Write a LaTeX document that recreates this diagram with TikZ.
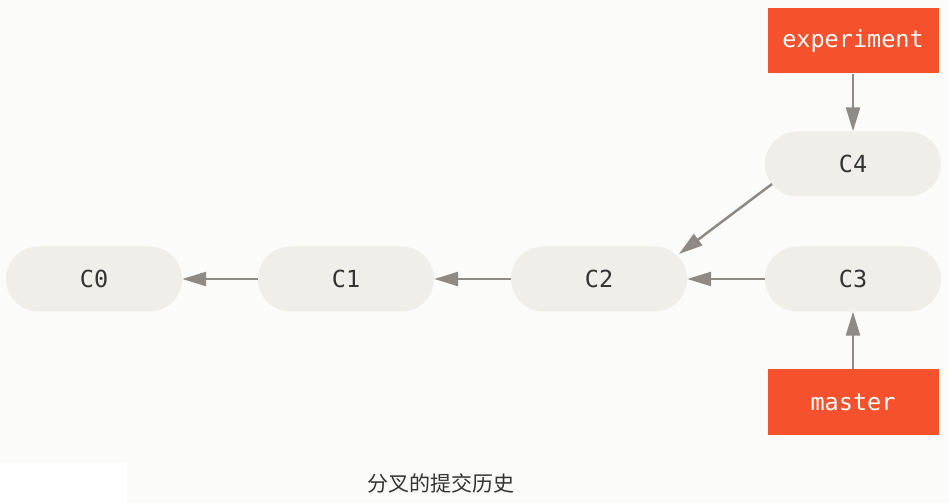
\documentclass[tikz,border=0pt]{standalone}
\usepackage{fontspec}
\setmonofont{DejaVu Sans Mono}
\newfontfamily\cjk{Noto Sans CJK SC}
\usetikzlibrary{shapes.misc,arrows.meta}
\definecolor{bgc}{HTML}{FBFBF9}
\definecolor{commitfill}{HTML}{EFEEE8}
\definecolor{branchred}{HTML}{F4512C}
\definecolor{arrowgray}{HTML}{8F8A83}
\definecolor{txtgray}{HTML}{333333}
\tikzset{
  commit/.style={rounded rectangle, fill=commitfill, minimum width=176pt, minimum height=65pt, inner sep=0pt,
    font=\ttfamily\fontsize{23.5}{23.5}\selectfont, text=txtgray},
  branch/.style={rectangle, fill=branchred, minimum width=171pt, minimum height=65pt, inner sep=0pt,
    font=\ttfamily\fontsize{23.5}{23.5}\selectfont, text=white},
  arr/.style={draw=arrowgray, line width=2.5pt, -{Triangle[length=24pt,width=14pt]}, arrowgray}
}
\begin{document}
\begin{tikzpicture}[x=1pt,y=1pt]
\fill[bgc] (0,0) rectangle (949,503);
\fill[white] (0,0) rectangle (127,40);
\useasboundingbox (0,0) rectangle (949,503);
\node[commit] (C0) at (94,224) {C0};
\node[commit] (C1) at (346,224) {C1};
\node[commit] (C2) at (599,224) {C2};
\node[commit] (C3) at (853,224) {C3};
\node[commit] (C4) at (853,339) {C4};
\node[branch] (exp) at (853,462) {experiment};
\node[branch] (mst) at (853,101) {master};
\node[font=\cjk\fontsize{21}{21}\selectfont, text=txtgray] (cap) at (441,20) {分叉的提交历史};
\draw[arr] (C1.west) -- (C0.east);
\draw[arr] (C2.west) -- (C1.east);
\draw[arr] (C3.west) -- (C2.east);
\draw[arr] ([shift={(-81pt,-20pt)}]C4.center) -- ([shift={(80pt,25pt)}]C2.center);
\draw[arr] (exp.south) -- (C4.north);
\draw[arr] (mst.north) -- (C3.south);
\end{tikzpicture}
\end{document}
